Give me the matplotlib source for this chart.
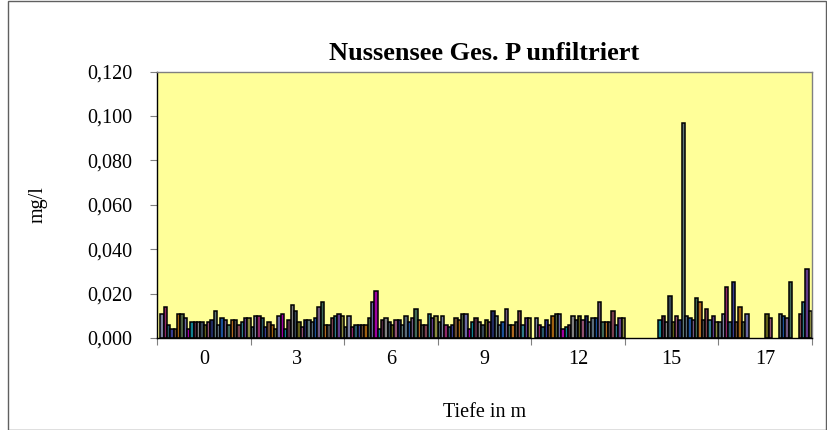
import numpy as np
import matplotlib
matplotlib.use('Agg')
import matplotlib.pyplot as plt
from matplotlib.patches import Rectangle
from matplotlib.ticker import FuncFormatter

nan = np.nan

# depth categories (x axis)
depths = ['0', '3', '6', '9', '12', '15', '17']

# total P per sampling date (28 series), one list per depth, mg/l
p_0 = [nan, 0.011, 0.014, 0.006, 0.004, 0.004, 0.011, 0.011, 0.009, 0.004,
       0.007, 0.007, 0.007, 0.007, 0.006, 0.007, 0.008, 0.012, 0.006, 0.009,
       0.008, 0.006, 0.008, 0.008, 0.006, 0.007, 0.009, 0.009]
p_3 = [0.005, 0.010, 0.010, 0.009, 0.005, 0.007, 0.006, 0.004, 0.010, 0.011,
       0.004, 0.008, 0.015, 0.012, 0.007, 0.005, 0.008, 0.008, 0.007, 0.009,
       0.014, 0.016, 0.006, 0.006, 0.009, 0.010, 0.011, 0.010]
p_6 = [0.005, 0.010, 0.005, 0.006, 0.006, 0.006, 0.006, 0.009, 0.016, 0.021,
       0.004, 0.008, 0.009, 0.007, 0.006, 0.008, 0.008, 0.006, 0.010, 0.007,
       0.009, 0.013, 0.008, 0.006, 0.006, 0.011, 0.009, 0.010]
p_9 = [0.007, 0.010, 0.006, 0.005, 0.006, 0.009, 0.008, 0.011, 0.011, 0.004,
       0.007, 0.009, 0.007, 0.006, 0.008, 0.007, 0.012, 0.010, 0.006, 0.007,
       0.013, 0.006, 0.006, 0.007, 0.012, 0.006, 0.009, 0.009]
p_12 = [nan, 0.009, 0.006, 0.005, 0.008, 0.006, 0.010, 0.011, 0.011, 0.004,
        0.005, 0.006, 0.010, 0.008, 0.010, 0.008, 0.010, 0.007, 0.009, 0.009,
        0.016, 0.007, 0.007, 0.007, 0.012, 0.006, 0.009, 0.009]
p_15 = [nan, nan, nan, nan, nan, nan, nan, nan, nan, nan,
        0.008, 0.010, 0.007, 0.019, 0.007, 0.010, 0.008, 0.097, 0.010, 0.009,
        0.008, 0.018, 0.016, 0.008, 0.013, 0.008, 0.010, 0.007]
p_17 = [0.007, 0.011, 0.023, 0.007, 0.025, 0.007, 0.014, 0.007, 0.011, nan,
        nan, nan, nan, nan, 0.011, 0.009, nan, nan, 0.011, 0.010,
        0.009, 0.025, nan, nan, 0.011, 0.016, 0.031, 0.012]

series_colors = ['#4a5a68', '#7a80a0', '#902868', '#285868', '#383c90', '#6a4a30',
                 '#a06010', '#4a6040', '#6868a0', '#a000a0', '#108090', '#502840',
                 '#808080', '#364656', '#606018', '#905070', '#202a60', '#607878',
                 '#5a6a78', '#1a5098', '#705880', '#406858', '#b06820', '#484848',
                 '#7a4050', '#307a88', '#603c8a', '#8a8a40']

data = np.array([p_0, p_3, p_6, p_9, p_12, p_15, p_17])
n_cat, n_ser = data.shape

plt.rcParams['font.family'] = 'Liberation Serif'

fig = plt.figure(figsize=(8.27, 4.30), dpi=100)
ax = fig.add_axes([157/827, (430-338)/430, (812-157)/827, (338-71.5)/430])
ax.set_facecolor('#ffff99')

w = 1.0 / n_ser
x = np.arange(n_cat)
for j in range(n_ser):
    ax.bar(x - 0.5 + (j + 0.5) * w, data[:, j], width=w, color=series_colors[j],
           edgecolor='black', linewidth=1.1, zorder=2)

ax.set_xlim(-0.5, n_cat - 0.5)
ax.set_ylim(0, 0.12)
ax.set_yticks(np.arange(0, 0.121, 0.02))
ax.yaxis.set_major_formatter(FuncFormatter(lambda v, p: ('%.3f' % v).replace('.', ',')))

# ticks at category boundaries, labels in the middle
ax.set_xticks(np.arange(-0.5, n_cat, 1.0))
ax.set_xticklabels([])
ax.set_xticks(x, minor=True)
ax.set_xticklabels(depths, minor=True)
ax.tick_params(axis='x', which='minor', length=0, pad=9, labelsize=14.5)
ax.tick_params(axis='x', which='major', length=5, color='#808080', direction='out')
ax.tick_params(axis='y', length=5, color='#808080', direction='out', pad=13, labelsize=14.5)

for s in ['top', 'right']:
    ax.spines[s].set_color('#808080')
    ax.spines[s].set_linewidth(1.0)
for s in ['left', 'bottom']:
    ax.spines[s].set_color('black')
    ax.spines[s].set_linewidth(1.0)

ax.set_title('Nussensee Ges. P unfiltriert', fontsize=19, fontweight='bold', pad=8)
ax.set_ylabel('mg/l', fontsize=14.5, labelpad=28)
ax.set_xlabel('Tiefe in m', fontsize=14.5, labelpad=24)

# chart area border
fig.patches.append(Rectangle((8/827, 0.5/430), 818/827, 429/430, transform=fig.transFigure,
                             fill=False, edgecolor='#606060', linewidth=1.0))

fig.savefig('out.png', dpi=100)
